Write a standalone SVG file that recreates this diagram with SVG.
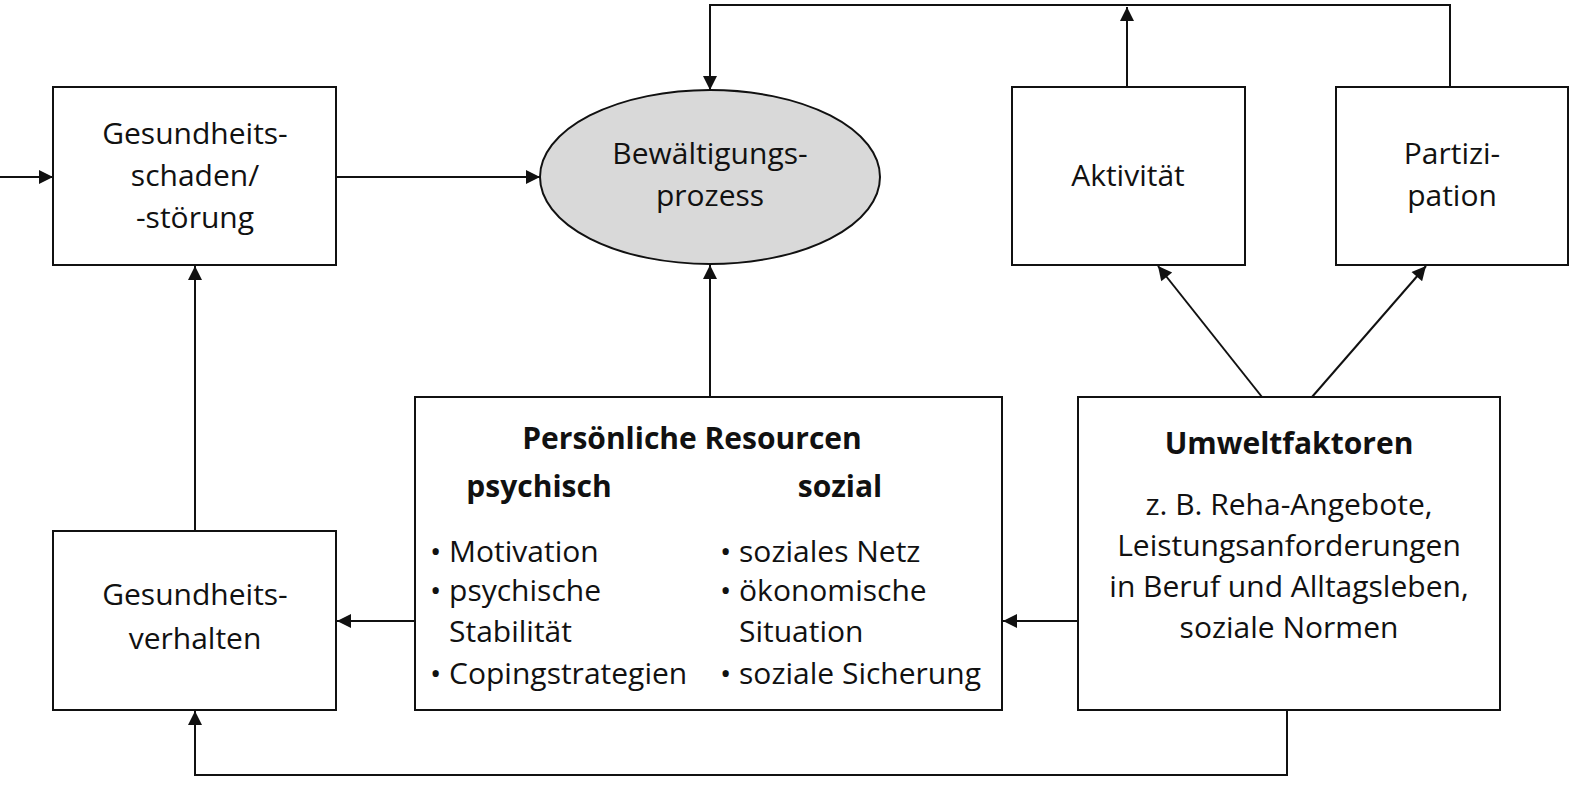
<svg xmlns="http://www.w3.org/2000/svg" width="1596" height="792" viewBox="0 0 1596 792">
<style>
.b{fill:#fff;stroke:#111;stroke-width:2}
.l{fill:none;stroke:#111;stroke-width:2}
text{font-family:"Open Sans","Liberation Sans",sans-serif;font-size:30px;fill:#111}
.c{text-anchor:middle}
.h{font-weight:bold}
</style>
<defs><marker id="w" viewBox="0 0 10 10" refX="10" refY="5" markerWidth="20" markerHeight="14" markerUnits="userSpaceOnUse" orient="auto"><path d="M0,0L10,5L0,10z" fill="#111"/></marker></defs>
<g id="connectors">
<path class="l" d="M0,177H53" marker-end="url(#w)"/>
<path class="l" d="M336,177H540" marker-end="url(#w)"/>
<path class="l" d="M1450,87V5H710V90" marker-end="url(#w)"/>
<path class="l" d="M1127,87V7" marker-end="url(#w)"/>
<path class="l" d="M1262,397L1158,266" marker-end="url(#w)"/>
<path class="l" d="M1312,397L1426,266" marker-end="url(#w)"/>
<path class="l" d="M710,397V265" marker-end="url(#w)"/>
<path class="l" d="M415,621H337" marker-end="url(#w)"/>
<path class="l" d="M1078,621H1003" marker-end="url(#w)"/>
<path class="l" d="M195,531V266" marker-end="url(#w)"/>
<path class="l" d="M1287,710V775H195V711" marker-end="url(#w)"/>
</g>
<g id="schaden"><rect class="b" x="53" y="87" width="283" height="178"/>
<text class="c" x="195" y="144">Gesundheits-</text><text class="c" x="195" y="186">schaden/</text><text class="c" x="195" y="228">-störung</text></g>
<g id="prozess"><ellipse cx="710" cy="177" rx="170" ry="87" fill="#d9d9d9" stroke="#111" stroke-width="2"/>
<text class="c" x="710" y="164">Bewältigungs-</text><text class="c" x="710" y="206">prozess</text></g>
<g id="aktivitaet"><rect class="b" x="1012" y="87" width="233" height="178"/><text class="c" x="1128" y="186">Aktivität</text></g>
<g id="partizipation"><rect class="b" x="1336" y="87" width="232" height="178"/><text class="c" x="1452" y="164">Partizi-</text><text class="c" x="1452" y="206">pation</text></g>
<g id="resourcen"><rect class="b" x="415" y="397" width="587" height="313"/>
<text class="c h" x="692" y="449">Persönliche Resourcen</text>
<text class="c h" x="539" y="497">psychisch</text><text class="c h" x="840" y="497">sozial</text>
<text x="430" y="562">• Motivation</text><text x="430" y="601">• psychische</text><text x="449" y="642">Stabilität</text><text x="430" y="684">• Copingstrategien</text>
<text x="720" y="562">• soziales Netz</text><text x="720" y="601">• ökonomische</text><text x="739" y="642">Situation</text><text x="720" y="684">• soziale Sicherung</text></g>
<g id="umwelt"><rect class="b" x="1078" y="397" width="422" height="313"/>
<text class="c h" x="1289" y="454">Umweltfaktoren</text>
<text class="c" x="1289" y="515">z. B. Reha-Angebote,</text><text class="c" x="1289" y="556">Leistungsanforderungen</text><text class="c" x="1289" y="597">in Beruf und Alltagsleben,</text><text class="c" x="1289" y="638">soziale Normen</text></g>
<g id="verhalten"><rect class="b" x="53" y="531" width="283" height="179"/>
<text class="c" x="195" y="605">Gesundheits-</text><text class="c" x="195" y="649">verhalten</text></g>
</svg>
